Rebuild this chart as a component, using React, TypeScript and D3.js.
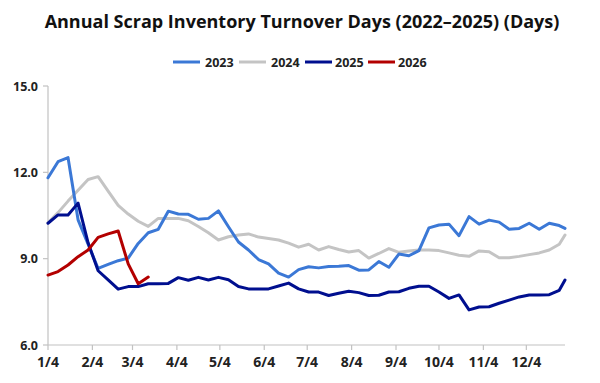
import React from "react";
import * as d3 from "d3";

const seriesNames = ["2023", "2024", "2025", "2026"];
const seriesColors = ["#3b78d6", "#c4c4c4", "#000f8f", "#b30000"];

// weekly observation dates (month/day aligned), last point Dec 31
const weekDates: Date[] = d3
  .range(52)
  .map((i) => d3.timeDay.offset(new Date(2023, 0, 4), 7 * i))
  .concat([new Date(2023, 11, 31)]);

const values2023 = [
  11.81, 12.37, 12.51, 10.35, 9.5, 8.66, 8.8, 8.93, 9.02, 9.53, 9.9, 10.02, 10.65,
  10.55, 10.54, 10.37, 10.4, 10.66, 10.11, 9.58, 9.3, 8.97, 8.82, 8.5, 8.36, 8.62,
  8.72, 8.68, 8.73, 8.74, 8.76, 8.6, 8.61, 8.9, 8.7, 9.16, 9.1, 9.28, 10.07, 10.17,
  10.2, 9.8, 10.46, 10.2, 10.34, 10.27, 10.02, 10.05, 10.23, 10.02, 10.23, 10.15, 10.05,
];
const values2024 = [
  10.25, 10.6, 11.0, 11.38, 11.75, 11.85, 11.35, 10.85, 10.55, 10.3, 10.12, 10.4, 10.4,
  10.4, 10.32, 10.12, 9.9, 9.65, 9.76, 9.82, 9.86, 9.75, 9.7, 9.65, 9.54, 9.4,
  9.5, 9.3, 9.42, 9.32, 9.23, 9.28, 9.02, 9.18, 9.35, 9.22, 9.27, 9.3, 9.3, 9.28,
  9.2, 9.12, 9.08, 9.27, 9.24, 9.03, 9.03, 9.08, 9.14, 9.2, 9.3, 9.5, 9.82,
];
const values2025 = [
  10.23, 10.52, 10.52, 10.93, 9.55, 8.58, 8.26, 7.94, 8.03, 8.03, 8.13, 8.13, 8.14,
  8.34, 8.25, 8.35, 8.26, 8.35, 8.27, 8.03, 7.95, 7.95, 7.95, 8.05, 8.15, 7.95,
  7.84, 7.84, 7.72, 7.8, 7.87, 7.82, 7.72, 7.73, 7.84, 7.85, 7.97, 8.04, 8.04, 7.84,
  7.62, 7.74, 7.22, 7.32, 7.33, 7.45, 7.56, 7.67, 7.74, 7.74, 7.75, 7.9, 8.26,
];
const values2026 = [8.43, 8.55, 8.78, 9.07, 9.3, 9.74, 9.86, 9.96, 8.82, 8.13, 8.36];

const yTicks = [6, 9, 12, 15];
const xTickDates = d3.range(12).map((m) => new Date(2023, m, 4));

const W = 600;
const H = 383;
const M = { left: 48, right: 35, top: 86, bottom: 38 };

export default function App() {
  const x = d3
    .scaleTime()
    .domain([new Date(2023, 0, 4), new Date(2023, 11, 31)])
    .range([M.left, W - M.right]);
  const y = d3.scaleLinear().domain([6, 15]).range([H - M.bottom, M.top]);

  const line = d3
    .line<[Date, number]>()
    .x((d) => x(d[0]))
    .y((d) => y(d[1]))
    .curve(d3.curveLinear);

  const all = [values2023, values2024, values2025, values2026];
  const drawOrder = [1, 0, 2, 3];
  const font = "'Open Sans', 'Noto Sans', sans-serif";
  const axisColor = "#c2c2c2";

  const legendItems = [
    { x: 173, tx: 205 },
    { x: 239, tx: 271 },
    { x: 305, tx: 335 },
    { x: 368, tx: 398 },
  ];

  return (
    <svg
      width={W}
      height={H}
      style={{ position: "absolute", left: 0, top: 0, background: "#fff" }}
      fontFamily={font}
    >
      <text
        x={W / 2 + 2}
        y={28}
        textAnchor="middle"
        fontSize={18}
        fontWeight={700}
        fill="#111"
      >
        Annual Scrap Inventory Turnover Days (2022–2025) (Days)
      </text>

      {seriesNames.map((name, i) => (
        <g key={name}>
          <line
            x1={legendItems[i].x}
            x2={legendItems[i].x + 27}
            y1={62}
            y2={62}
            stroke={seriesColors[i]}
            strokeWidth={3}
          />
          <text
            x={legendItems[i].tx}
            y={66.5}
            fontSize={12.5}
            fontWeight={700}
            fill="#222"
          >
            {name}
          </text>
        </g>
      ))}

      {/* axes */}
      <line x1={M.left} x2={M.left} y1={y(15)} y2={y(6)} stroke={axisColor} strokeWidth={1.2} />
      <line x1={M.left} x2={W - M.right} y1={y(6)} y2={y(6)} stroke={axisColor} strokeWidth={1.2} />
      {yTicks.map((t) => (
        <g key={t}>
          <line x1={M.left - 5} x2={M.left} y1={y(t)} y2={y(t)} stroke={axisColor} strokeWidth={1.2} />
          <text
            x={M.left - 10}
            y={y(t) + 4.5}
            textAnchor="end"
            fontSize={12.5}
            fontWeight={700}
            fill="#222"
          >
            {t.toFixed(1)}
          </text>
        </g>
      ))}
      {xTickDates.map((d, i) => (
        <g key={i}>
          <line x1={x(d)} x2={x(d)} y1={y(6)} y2={y(6) + 5} stroke={axisColor} strokeWidth={1.2} />
          <text
            x={x(d)}
            y={y(6) + 22}
            textAnchor="middle"
            fontSize={14}
            fontWeight={700}
            fill="#222"
          >
            {`${d.getMonth() + 1}/${d.getDate()}`}
          </text>
        </g>
      ))}

      {drawOrder.map((si) => {
        const pts: [Date, number][] = all[si].map((v, k) => [weekDates[k], v]);
        return (
          <path
            key={si}
            d={line(pts) || ""}
            fill="none"
            stroke={seriesColors[si]}
            strokeWidth={3}
            strokeLinejoin="round"
            strokeLinecap="round"
          />
        );
      })}
    </svg>
  );
}
